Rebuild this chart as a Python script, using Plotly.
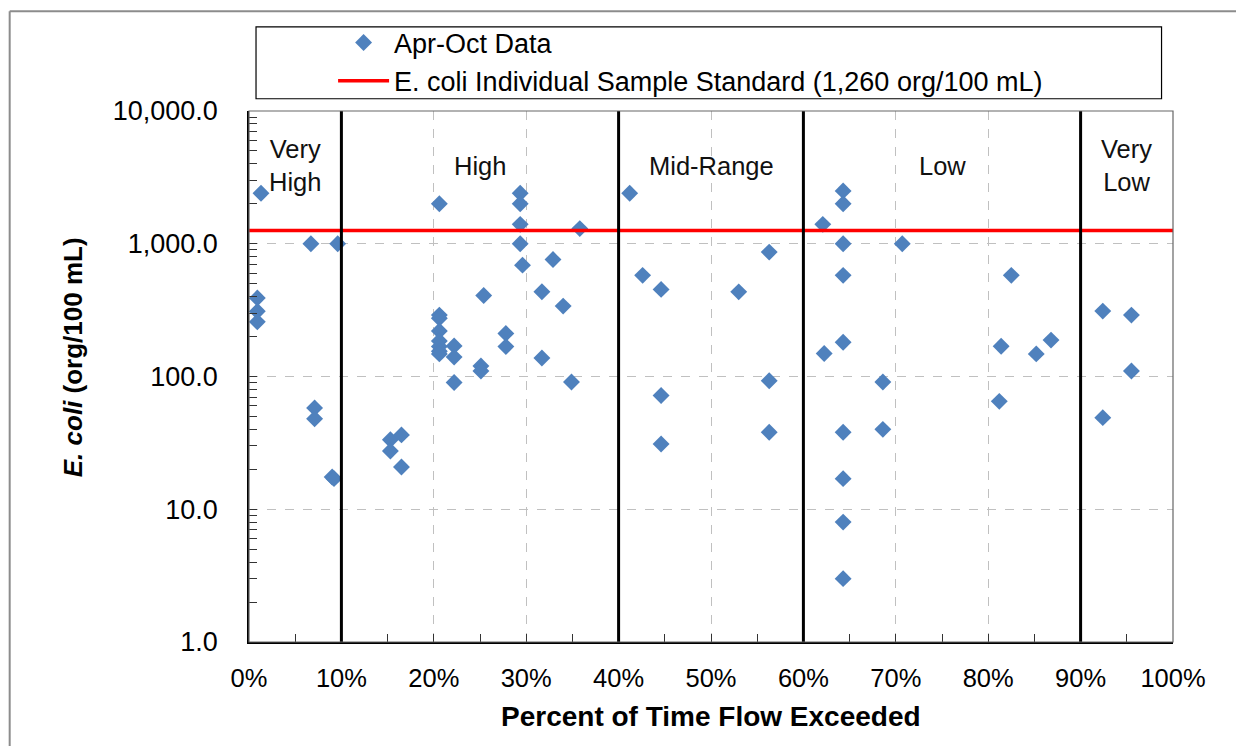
import math
import plotly.graph_objects as go

# ---- data (percent of time flow exceeded, fraction; E. coli org/100 mL) ----
flow_pct = [
    0.013, 0.009, 0.009, 0.009, 0.067, 0.096, 0.071, 0.071, 0.090, 0.092,
    0.206, 0.206, 0.206, 0.206, 0.206, 0.206, 0.206, 0.206,
    0.222, 0.222, 0.222,
    0.153, 0.153, 0.165, 0.165,
    0.251, 0.251, 0.254, 0.278, 0.278,
    0.2935, 0.2935, 0.2935, 0.2935, 0.296,
    0.317, 0.317, 0.329, 0.340, 0.349, 0.358,
    0.412, 0.426, 0.446, 0.446, 0.446, 0.530, 0.563, 0.563, 0.563,
    0.621, 0.6225,
    0.643, 0.643, 0.643, 0.643, 0.643, 0.643, 0.643, 0.643, 0.643,
    0.686, 0.686, 0.707, 0.812, 0.814, 0.825, 0.852, 0.868,
    0.924, 0.924, 0.955, 0.955,
]
ecoli = [
    2400, 390, 310, 258, 1000, 1000, 58, 48, 17.5, 17,
    2000, 290, 275, 220, 185, 168, 155, 148,
    170, 140, 90,
    33.4, 27.5, 36.3, 20.8,
    120, 110, 408, 211, 168,
    2400, 2000, 1400, 1000, 690,
    435, 138, 760, 339, 91, 1300,
    2400, 578, 453, 72, 31, 434, 865, 93, 38,
    1400, 149,
    2500, 2000, 1000, 578, 181, 38, 17, 8, 3,
    91, 40, 1000, 65, 169, 578, 148, 188,
    311, 49, 290, 110,
]
standard_value = 1260
standard_x = [0.0, 1.0]
zone_bounds = [0.10, 0.40, 0.60, 0.90]
zone_labels = ["Very<br>High", "High", "Mid-Range", "Low", "Very<br>Low"]
zone_label_x = [0.05, 0.25, 0.50, 0.75, 0.95]
zone_label_y = 3860
y_tick_vals = [1, 10, 100, 1000, 10000]

FONT = "Liberation Sans, Arial, sans-serif"

fig = go.Figure()
fig.add_trace(go.Scatter(
    x=flow_pct, y=ecoli, mode="markers", name="Apr-Oct Data",
    marker=dict(symbol="diamond", size=13, color="#4F81BD"),
))
fig.add_trace(go.Scatter(
    x=standard_x, y=[standard_value] * len(standard_x), mode="lines",
    name="E. coli Individual Sample Standard (1,260 org/100 mL)",
    line=dict(color="#FF0000", width=3.5),
))

# zone boundaries
for b in zone_bounds:
    fig.add_shape(type="line", xref="x", yref="paper", x0=b, x1=b, y0=0, y1=1,
                  line=dict(color="black", width=3), layer="above")

# zone labels
for lx, lt in zip(zone_label_x, zone_labels):
    fig.add_annotation(x=lx, y=math.log10(zone_label_y), xref="x", yref="y",
                       text=lt, showarrow=False, font=dict(family=FONT, size=25.5, color="#111"),
                       xanchor="center", yanchor="middle")

# plot-area border
fig.add_shape(type="rect", xref="paper", yref="paper", x0=0, x1=1, y0=0, y1=1,
              line=dict(color="#666", width=1.2), layer="above")
# legend box
fig.add_shape(type="rect", xref="paper", yref="paper", x0=0.0076, x1=0.9876, y0=1.0231, y1=1.1585,
              line=dict(color="black", width=1.2))
# outer chart border (top and left edges visible)
fig.add_shape(type="line", xref="paper", yref="paper", x0=-0.259, x1=1.2, y0=1.188, y1=1.188,
              line=dict(color="#8c8c8c", width=2))
fig.add_shape(type="line", xref="paper", yref="paper", x0=-0.259, x1=-0.259, y0=-0.3, y1=1.188,
              line=dict(color="#8c8c8c", width=2))

# axis titles
fig.add_annotation(x=-0.1908, y=0.5357, xref="paper", yref="paper", textangle=-90,
                   text="<b><i>E. coli</i> (org/100 mL)</b>", showarrow=False,
                   font=dict(family=FONT, size=26, color="black"), xanchor="center", yanchor="middle")
fig.add_annotation(x=0.5, y=-0.141, xref="paper", yref="paper",
                   text="<b>Percent of Time Flow Exceeded</b>", showarrow=False,
                   font=dict(family=FONT, size=28, color="black"), xanchor="center", yanchor="middle")

fig.update_layout(
    width=1228, height=738,
    margin=dict(l=240.5, r=62.5, t=102, b=104),
    paper_bgcolor="white", plot_bgcolor="white",
    font=dict(family=FONT, size=25, color="black"),
    showlegend=True,
    legend=dict(x=0.091, y=1.172, xanchor="left", yanchor="top",
                bgcolor="rgba(0,0,0,0)", borderwidth=0, itemwidth=51,
                font=dict(family=FONT, size=27, color="black"),
                tracegroupgap=0),
)
fig.update_xaxes(
    range=[0, 1], tickformat=".0%", dtick=0.1, tick0=0,
    showgrid=True, gridcolor="#c0c0c0", griddash="dash", gridwidth=1,
    ticks="inside", ticklen=8, tickcolor="#333",
    minor=dict(dtick=0.05, ticks="inside", ticklen=8, tickcolor="#333", showgrid=False),
    showline=True, linecolor="black", linewidth=2, zeroline=False,
    ticklabelstandoff=12,
    tickfont=dict(family=FONT, size=25.5, color="black"),
)
fig.update_yaxes(
    type="log", range=[0, 4], tickvals=y_tick_vals, tickformat=",.1f",
    showgrid=True, gridcolor="#c0c0c0", griddash="dash", gridwidth=1,
    ticks="inside", ticklen=8, tickcolor="#333",
    minor=dict(dtick="D1", ticks="inside", ticklen=8, tickcolor="#333", showgrid=False),
    showline=True, linecolor="black", linewidth=1.5, zeroline=False,
    ticklabelstandoff=24,
    tickfont=dict(family=FONT, size=27, color="black"),
)

fig.write_html("out.html")
